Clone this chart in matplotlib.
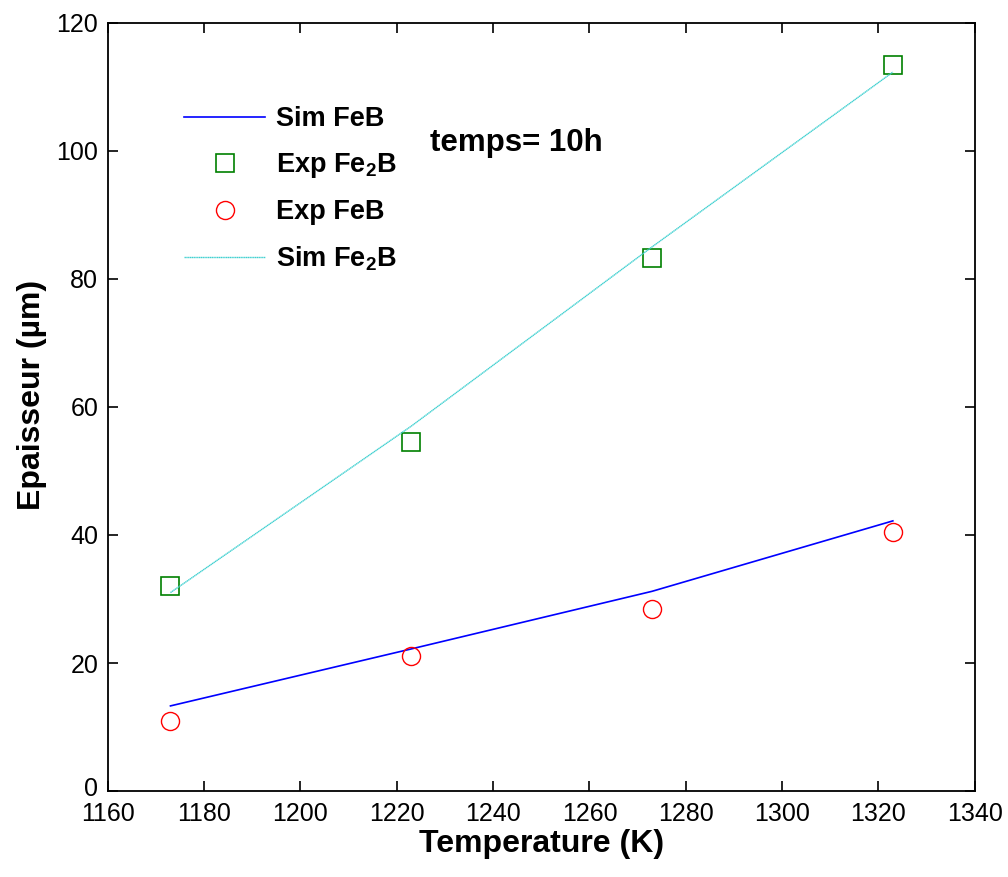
import matplotlib
matplotlib.use("Agg")
import matplotlib.pyplot as plt
from matplotlib.transforms import ScaledTranslation

plt.rcParams['font.family'] = ['Liberation Sans', 'DejaVu Sans']
plt.rcParams['mathtext.fontset'] = 'custom'
plt.rcParams['mathtext.rm'] = 'Liberation Sans'
plt.rcParams['mathtext.bf'] = 'Liberation Sans:bold'

# data
temp = [1173, 1223, 1273, 1323]
sim_feb = [13.3, 22.2, 31.2, 42.2]
exp_feb = [11.0, 21.1, 28.5, 40.4]
sim_fe2b = [31.0, 57.0, 85.0, 112.3]
exp_fe2b = [32.0, 54.5, 83.2, 113.4]

fig = plt.figure(figsize=(10.08, 8.77), dpi=100)
ax = fig.add_axes([0.107, 0.098, 0.860, 0.876])

l1, = ax.plot(temp, sim_feb, color='blue', lw=1.2, label='Sim FeB')
l2, = ax.plot(temp, exp_fe2b, ls='none', marker='s', ms=13, mfc='none',
              mec='green', mew=1.2, label=r'Exp Fe$_\mathbf{2}$B')
l3, = ax.plot(temp, exp_feb, ls='none', marker='o', ms=13, mfc='none',
              mec='red', mew=1.0, label='Exp FeB')
l4, = ax.plot(temp, sim_fe2b, color='#40d0d0', lw=1.0, ls=(0, (1, 0.3)),
              label=r'Sim Fe$_\mathbf{2}$B')

leg = ax.legend(handles=[l1, l2, l3, l4], loc='upper left',
                bbox_to_anchor=(0.06, 0.923), frameon=False,
                prop={'weight': 'bold', 'size': 19.5}, handlelength=3.0,
                handletextpad=0.4, labelspacing=0.7)

ax.text(0.372, 0.843, 'temps= 10h', transform=ax.transAxes, fontsize=22.5,
        fontweight='bold', va='center')

ax.set_xlim(1160, 1340)
ax.set_ylim(0, 120)
ax.set_xticks(range(1160, 1341, 20))
ax.set_yticks(range(0, 121, 20))
ax.tick_params(direction='in', top=True, right=True, labelsize=18,
               length=7, width=1.2)
ax.tick_params(axis='x', pad=8)
ax.tick_params(axis='y', pad=7)
for s in ax.spines.values():
    s.set_linewidth(1.3)

# nudge the "0" label up a little so it does not run into "1160"
lab0 = ax.get_yticklabels()[0]
lab0.set_transform(lab0.get_transform()
                   + ScaledTranslation(0, 3 / 72, fig.dpi_scale_trans))

ax.set_xlabel('Temperature (K)', fontsize=23, fontweight='bold', labelpad=2)
ax.set_ylabel('Epaisseur (µm)', fontsize=23, fontweight='bold')
ax.yaxis.set_label_coords(-0.07, 0.515)

fig.savefig('out.png', dpi=100)
